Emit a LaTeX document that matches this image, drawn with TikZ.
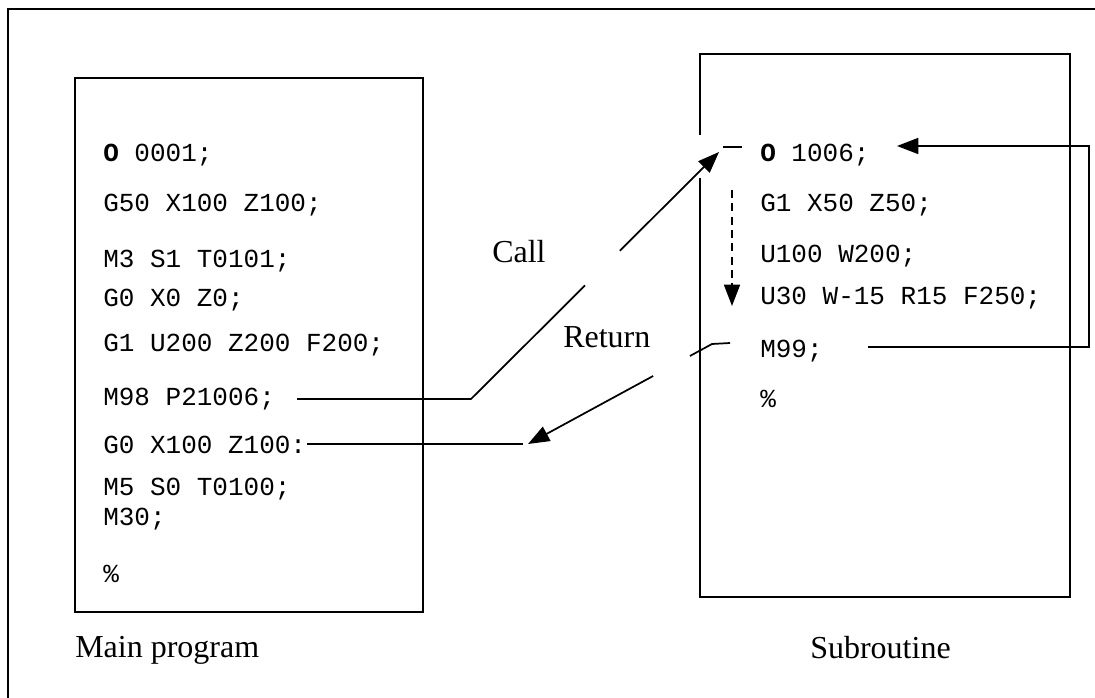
\documentclass[tikz,border=0pt]{standalone}
\usepackage{fontspec}
\setmainfont{Liberation Serif}
\newfontfamily\codefont{Liberation Mono}
\usetikzlibrary{arrows.meta,calc}

\tikzset{
  code/.style={anchor=base west, inner sep=0pt, font=\codefont\fontsize{19.5}{20}\selectfont},
  caption/.style={anchor=base west, inner sep=0pt, font=\fontsize{24}{26}\selectfont},
  box/.style={line width=1.8pt},
  link/.style={line width=1.3pt},
  tip/.style={-{Triangle[length=16pt,width=12pt]}}
}

\begin{document}
\begin{tikzpicture}[x=0.75pt,y=-0.75pt]
  \useasboundingbox (0,0) rectangle (1095,698);
  \draw[line width=2pt] (1095,9) -- (8,9) -- (8,698);

  % main program
  \draw[box] (75,78) rectangle (423,612);
  \foreach \i/\y/\txt in {1/162/{{\bfseries O} 0001;}, 2/212/{G50 X100 Z100;},
      3/268/{M3 S1 T0101;}, 4/307/{G0 X0 Z0;}, 5/352/{G1 U200 Z200 F200;},
      6/405/{M98 P21006;}, 7/453/{G0 X100 Z100:}, 8/495/{M5 S0 T0100;},
      9/525/{M30;}, 10/582/{\%}} {
    \node[code] (m\i) at (103,\y) {\txt};
  }
  \node[caption] (mainlbl) at (75,657) {Main program};

  % subroutine
  \draw[box] (700,135) -- (700,54) -- (1070,54) -- (1070,597) -- (700,597) -- (700,178);
  \foreach \i/\y/\txt in {1/162/{{\bfseries O} 1006;}, 2/212/{G1 X50 Z50;},
      3/263/{U100 W200;}, 4/305/{U30 W-15 R15 F250;}, 5/358/{M99;}, 6/407/{\%}} {
    \node[code] (s\i) at (760,\y) {\txt};
  }
  \node[caption] (sublbl) at (810,658) {Subroutine};

  % call
  \coordinate (call0) at (297,399);
  \coordinate (call1) at (471,399);
  \coordinate (call2) at (719,152);
  \draw[link] (call0) -- (call1) -- ($(call1)!0.46!(call2)$);
  \draw[link,tip] ($(call1)!0.6!(call2)$) -- (call2);
  \draw[link] (723,147) -- (742,147);
  \node[caption] (calllbl) at (492,263) {Call};

  % run through
  \coordinate (run0) at (732,190);
  \coordinate (run1) at (732,306);
  \draw[link,dash pattern=on 6pt off 4pt,tip] (run0) -- (run1);

  % return
  \coordinate (ret0) at (730,343);
  \coordinate (ret1) at (712,344);
  \coordinate (ret2) at (528,444);
  \draw[link] (ret0) -- (ret1) -- ($(ret1)!0.12!(ret2)$);
  \draw[link,tip] ($(ret1)!0.32!(ret2)$) -- (ret2);
  \coordinate (back0) at (307,444);
  \coordinate (back1) at (523,444);
  \draw[link] (back0) -- (back1);
  \node[caption] (retlbl) at (563,348) {Return};

  % loop back to start
  \coordinate (loop0) at (868,347);
  \coordinate (loop1) at (1089,347);
  \coordinate (loop2) at (1089,146);
  \coordinate (loop3) at (897,146);
  \draw[link,tip] (loop0) -- (loop1) -- (loop2) -- (loop3);
\end{tikzpicture}
\end{document}
